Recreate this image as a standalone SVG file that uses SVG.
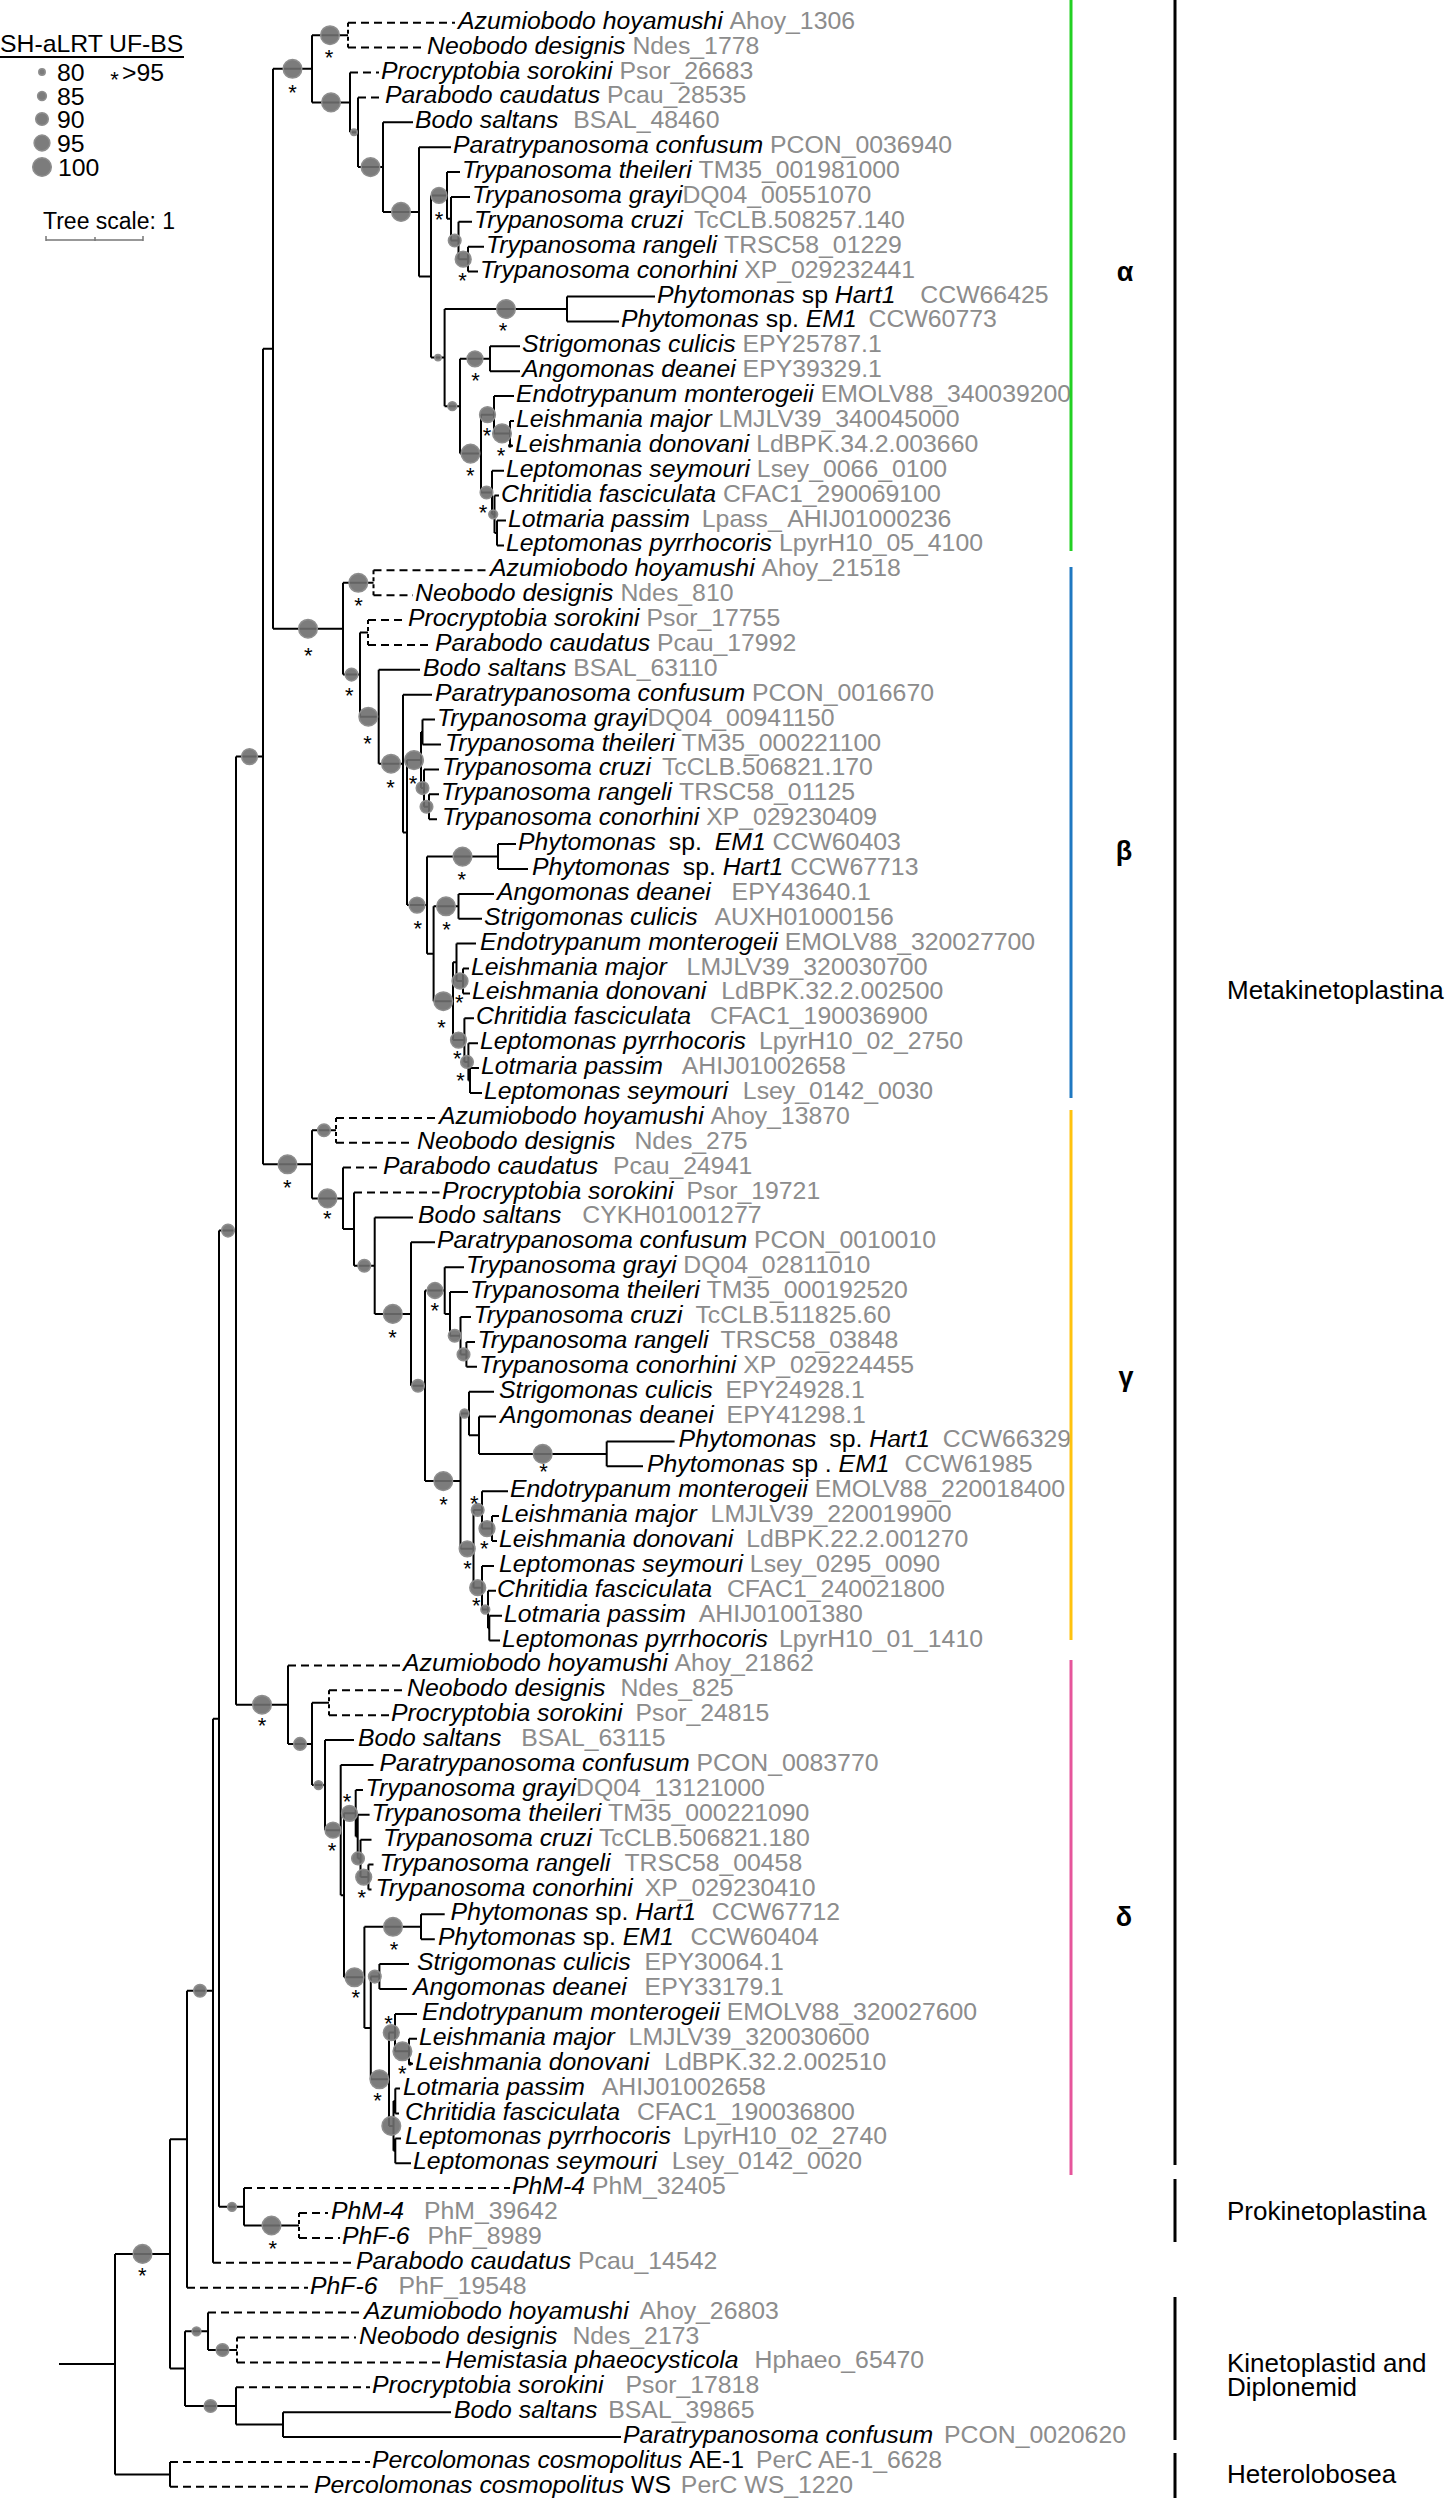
<svg xmlns="http://www.w3.org/2000/svg" width="1455" height="2498" viewBox="0 0 1455 2498">
<style>
.t{font-family:"Liberation Sans",Arial,sans-serif;font-size:24.8px;font-style:italic;fill:#000}
.i{font-style:normal;fill:#8c8c8c}
.r{font-style:normal}
.lg{font-family:"Liberation Sans",Arial,sans-serif;font-size:24.8px;fill:#000}
.cl{font-family:"Liberation Sans",Arial,sans-serif;font-size:26px;fill:#000}
.gk{font-family:"Liberation Sans",Arial,sans-serif;font-size:27px;font-weight:bold;fill:#000;text-anchor:middle}
.st{font-family:"Liberation Sans",Arial,sans-serif;font-size:22px;fill:#000;text-anchor:middle}
.br{fill:none;stroke:#000;stroke-width:2}
.da{fill:none;stroke:#000;stroke-width:2;stroke-dasharray:8 5}
.dv{fill:none;stroke:#000;stroke-width:2;stroke-dasharray:4 3}
.s{fill:#6e6e6e;fill-opacity:0.9;stroke:#8e8e8e;stroke-width:1.5}
.dot{fill:#000}
</style>
<g id="legend">
<text class="lg" x="0" y="52">SH-aLRT</text>
<text class="lg" x="109" y="52">UF-BS</text>
<line x1="0" y1="57" x2="184" y2="57" stroke="#000" stroke-width="2"/>
<circle class="s" cx="42" cy="72" r="3.2"/>
<circle class="s" cx="42" cy="96" r="4.4"/>
<circle class="s" cx="42" cy="119" r="6.3"/>
<circle class="s" cx="42" cy="143" r="7.9"/>
<circle class="s" cx="42" cy="167" r="9.3"/>
<text class="lg" x="57" y="81">80</text>
<text class="lg" x="57" y="105">85</text>
<text class="lg" x="57" y="128">90</text>
<text class="lg" x="57" y="152">95</text>
<text class="lg" x="58" y="176">100</text>
<text class="st" x="114.6" y="86.5">*</text>
<text class="lg" x="122" y="81">&gt;95</text>
<text class="lg" x="43" y="229" style="font-size:23px">Tree scale: 1</text>
<path d="M46 240H143M46 236V241M95 237V241M143 236V241" fill="none" stroke="#777" stroke-width="1.5"/>
</g>
<g id="connectors">
<path class="br" d="M59 2364.1H115M115 2253.9V2474.4M115 2253.9H170M115 2474.4H170M170 2139.2V2368.6M170 2139.2H187M170 2368.6H185M187 1990.8V2287.7M187 1990.8H213M213 1718.7V2262.8M213 1718.7H219M219 1230.6V2206.8M219 1230.6H236M219 2206.8H244M236 756.6V1704.7M236 756.6H263M236 1704.7H288M263 348.8V1164.3M263 348.8H273M263 1164.3H312M273 68.8V628.7M273 68.8H312M273 628.7H343
M185 2331.3V2406M185 2331.3H208M185 2406H236M208 2312.6V2350M208 2350H237M236 2387.3V2424.6M236 2424.6H283M283 2412.2V2437M283 2412.2H451M283 2437H621M170 2461.9V2486.8
M244 2188.1V2225.5M244 2225.5H299
M312 35.2V102.4M312 35.2H348M312 102.4H350M350 72.5V132.3M350 132.3H358M358 97.4V167.1M358 167.1H383M383 122.3V211.9M383 122.3H413M383 211.9H419M419 147.2V276.5M419 147.2H451M419 276.5H431M431 195.4V357.6M431 195.4H447M431 357.6H444.6M447 172V218.7M447 172H460M447 218.7H451M451 196.9V240.5M451 196.9H470M451 240.5H458.5M458.5 221.8V259.2M458.5 221.8H472M458.5 259.2H468M468 246.7V271.6M468 246.7H484M468 271.6H478M444.6 309V406.2M444.6 309H567M444.6 406.2H460M567 296.5V321.4M567 296.5H655M567 321.4H619M460 358.8V453.6M460 358.8H490M460 453.6H481M490 346.3V371.2M490 346.3H520M490 371.2H520M481 414.7V492.5M481 414.7H494M481 492.5H492M494 396.1V433.4M494 396.1H514M494 433.4H510M510 420.9V445.8M510 420.9H514M510 445.8H513M492 470.7V514.3M492 470.7H504M492 514.3H494.5M494.5 495.6V533M494.5 495.6H499M494.5 533H497M497 520.5V545.4M497 520.5H506M497 545.4H504
M343 582.8V674.6M343 582.8H373.5M343 674.6H360M360 632.6V716.7M360 632.6H368M360 716.7H378.7M378.7 669.8V763.7M378.7 669.8H420M378.7 763.7H403M403 694.7V832.6M403 694.7H432M403 832.6H407M407 760.1V905.1M407 760.1H421M407 905.1H427M421 732V788.1M421 732H422.5M421 788.1H424M422.5 719.6V744.5M422.5 719.6H435M422.5 744.5H441M424 769.4V806.8M424 769.4H439M424 806.8H429M429 794.3V819.2M429 794.3H439M429 819.2H437M427 856.6V953.8M427 856.6H498M427 953.8H433.6M498 844.1V869M498 844.1H516M498 869H528M433.6 906.3V1001.2M433.6 906.3H458.5M433.6 1001.2H453M458.5 893.9V918.7M458.5 893.9H494M458.5 918.7H482M453 962.3V1040.1M453 962.3H456.5M453 1040.1H464.4M456.5 943.6V981M456.5 943.6H476M456.5 981H463M463 968.5V993.4M463 968.5H469M463 993.4H470M464.4 1018.3V1061.9M464.4 1018.3H474M464.4 1061.9H468.4M468.4 1043.2V1080.6M468.4 1043.2H478M468.4 1080.6H470M470 1068.1V1093M470 1068.1H479M470 1093H482
M312 1130.3V1198.4M312 1130.3H336M312 1198.4H343M343 1167.6V1229.1M343 1229.1H354M354 1192.5V1265.7M354 1265.7H374.7M374.7 1217.4V1313.9M374.7 1217.4H413M374.7 1313.9H411M411 1242.3V1385.8M411 1242.3H435M411 1385.8H425M425 1290.5V1481.1M425 1290.5H444.7M425 1481.1H460.5M444.7 1267.2V1313.9M444.7 1267.2H464M444.7 1313.9H450M450 1292.1V1335.7M450 1292.1H468M450 1335.7H460.5M460.5 1317V1354.4M460.5 1317H471M460.5 1354.4H466.4M466.4 1341.9V1366.8M466.4 1341.9H475M466.4 1366.8H477M460.5 1413.5V1548.8M460.5 1413.5H469M460.5 1548.8H473.5M469 1391.7V1435.2M469 1391.7H494M469 1435.2H479M479 1416.5V1453.9M479 1416.5H496M479 1453.9H606.7M606.7 1441.4V1466.3M606.7 1441.4H674.6M606.7 1466.3H643M473.5 1509.9V1587.7M473.5 1509.9H482M473.5 1587.7H482M482 1491.2V1528.6M482 1491.2H508M482 1528.6H492M492 1516.1V1541M492 1516.1H499M492 1541H497M482 1565.9V1609.5M482 1565.9H494M482 1609.5H488M488 1590.8V1628.2M488 1590.8H496M488 1628.2H489.3M489.3 1615.7V1640.6M489.3 1615.7H502M489.3 1640.6H500
M288 1665.4V1743.9M288 1743.9H312M312 1702.8V1785.1M312 1702.8H329M312 1785.1H325M325 1740.1V1830.2M325 1740.1H354M325 1830.2H340.7M340.7 1765V1895.3M340.7 1765H373.5M340.7 1895.3H344M344 1813.3V1977.3M344 1813.3H355.7M344 1977.3H364.4M355.7 1789.9V1836.6M355.7 1789.9H363M355.7 1836.6H357.7M357.7 1814.8V1858.4M357.7 1814.8H369.6M357.7 1858.4H360.5M360.5 1839.7V1877.1M360.5 1839.7H371.5M360.5 1877.1H368.4M368.4 1864.6V1889.5M368.4 1864.6H373.5M368.4 1889.5H371.5M364.4 1926.8V2027.9M364.4 1926.8H421M364.4 2027.9H370.8M421 1914.3V1939.2M421 1914.3H444.7M421 1939.2H434.8M370.8 1976.6V2079.3M370.8 1976.6H379.4M370.8 2079.3H389M379.4 1964.1V1989M379.4 1964.1H409M379.4 1989H407M389 2032.6V2125.9M389 2032.6H395M389 2125.9H393.5M395 2013.9V2051.3M395 2013.9H417M395 2051.3H409M409 2038.8V2063.7M409 2038.8H417M409 2063.7H413M393.5 2101.1V2150.8M393.5 2101.1H395.3M393.5 2150.8H395.3M395.3 2088.6V2113.5M395.3 2088.6H400M395.3 2113.5H399M395.3 2138.4V2163.2M395.3 2138.4H401M395.3 2163.2H411"/>
<path class="da" d="M348 22.7H455M348 47.6H425M350 72.5H379M358 97.4H383M373.5 570.3H488M373.5 595.2H413M368 620.1H406M368 645H433M336 1117.9H437M336 1142.8H413M343 1167.6H381M354 1192.5H439.5M288 1665.4H401M329 1690.3H405M329 1715.2H389M244 2188.1H510M299 2213H328M299 2237.9H340M213 2262.8H354M187 2287.7H308M208 2312.6H362M237 2337.5H356M237 2362.4H442M236 2387.3H370M170 2461.9H370M170 2486.8H312"/>
<path class="dv" d="M348 22.7V47.6M373.5 570.3V595.2M368 620.1V645M336 1117.9V1142.8M329 1690.3V1715.2M299 2213V2237.9M237 2337.5V2362.4"/>
</g>
<g id="supports">
<circle class="s" cx="292.5" cy="68.8" r="9.3"/><circle class="s" cx="330" cy="35.2" r="9.3"/><circle class="s" cx="331" cy="102.4" r="9.3"/><circle class="s" cx="354" cy="132.3" r="3.2"/><circle class="s" cx="370.5" cy="167.1" r="9.3"/><circle class="s" cx="401" cy="211.9" r="9.3"/><circle class="s" cx="439" cy="195.4" r="7.9"/><circle class="s" cx="454.7" cy="240.5" r="6.3"/><circle class="s" cx="463.2" cy="259.2" r="7.9"/><circle class="s" cx="438" cy="357.6" r="3.2"/><circle class="s" cx="506" cy="309" r="9.3"/><circle class="s" cx="452.3" cy="406.2" r="4.4"/><circle class="s" cx="475" cy="358.8" r="7.9"/><circle class="s" cx="470.5" cy="453.6" r="9.3"/><circle class="s" cx="487.5" cy="414.7" r="7.9"/><circle class="s" cx="502" cy="433.4" r="9.3"/><circle class="dot" cx="510" cy="445.8" r="2"/><circle class="s" cx="486.5" cy="492.5" r="6.3"/><circle class="s" cx="493.2" cy="514.3" r="4.4"/>
<circle class="s" cx="308" cy="628.7" r="9.3"/><circle class="s" cx="358.3" cy="582.8" r="9.3"/><circle class="s" cx="351.5" cy="674.6" r="6.3"/><circle class="s" cx="368.3" cy="716.7" r="9.3"/><circle class="s" cx="391" cy="763.7" r="9.3"/><circle class="s" cx="414" cy="760.1" r="9.3"/><circle class="s" cx="422.5" cy="788.1" r="6.3"/><circle class="s" cx="426.5" cy="806.8" r="6.3"/><circle class="s" cx="417" cy="905.1" r="7.9"/><circle class="s" cx="462.5" cy="856.6" r="9.3"/><circle class="s" cx="446" cy="906.3" r="9.3"/><circle class="s" cx="443.3" cy="1001.2" r="9.3"/><circle class="s" cx="460" cy="981" r="7.9"/><circle class="s" cx="458.5" cy="1040.1" r="7.9"/><circle class="s" cx="467" cy="1061.9" r="6.3"/>
<circle class="s" cx="287.5" cy="1164.3" r="9.3"/><circle class="s" cx="324" cy="1130.3" r="6.3"/><circle class="s" cx="327.5" cy="1198.4" r="9.3"/><circle class="s" cx="364.3" cy="1265.7" r="6.3"/><circle class="s" cx="392.8" cy="1313.9" r="9.3"/><circle class="s" cx="418" cy="1385.8" r="6.3"/><circle class="s" cx="435" cy="1290.5" r="7.9"/><circle class="s" cx="454.7" cy="1335.7" r="6.3"/><circle class="s" cx="463.5" cy="1354.4" r="6.3"/><circle class="s" cx="443.3" cy="1481.1" r="9.3"/><circle class="s" cx="464.5" cy="1413.5" r="4.4"/><circle class="s" cx="542.7" cy="1453.9" r="9.3"/><circle class="s" cx="467.2" cy="1548.8" r="7.9"/><circle class="s" cx="477.7" cy="1509.9" r="6.3"/><circle class="s" cx="487" cy="1528.6" r="7.9"/><circle class="s" cx="477.7" cy="1587.7" r="7.9"/><circle class="s" cx="485.3" cy="1609.5" r="4.4"/>
<circle class="s" cx="262" cy="1704.7" r="9.3"/><circle class="s" cx="300" cy="1743.9" r="6.3"/><circle class="s" cx="318.5" cy="1785.1" r="4.4"/><circle class="s" cx="333" cy="1830.2" r="7.9"/><circle class="s" cx="349.5" cy="1813.3" r="7.9"/><circle class="s" cx="358" cy="1858.4" r="6.3"/><circle class="s" cx="363.7" cy="1877.1" r="7.9"/><circle class="s" cx="354.5" cy="1977.3" r="9.3"/><circle class="s" cx="393" cy="1926.8" r="9.3"/><circle class="s" cx="374.8" cy="1976.6" r="6.3"/><circle class="s" cx="379.4" cy="2079.3" r="9.3"/><circle class="s" cx="391.3" cy="2032.6" r="7.9"/><circle class="s" cx="402.4" cy="2051.3" r="9.3"/><circle class="dot" cx="410" cy="2063.7" r="2"/><circle class="s" cx="391.3" cy="2125.9" r="9.3"/>
<circle class="s" cx="249.5" cy="756.6" r="7.9"/><circle class="s" cx="228" cy="1230.6" r="6.3"/><circle class="s" cx="232" cy="2206.8" r="4.4"/><circle class="s" cx="271.5" cy="2225.5" r="9.3"/><circle class="s" cx="200" cy="1990.8" r="6.3"/><circle class="s" cx="142.5" cy="2253.9" r="9.3"/><circle class="s" cx="196.5" cy="2331.3" r="4.4"/><circle class="s" cx="222.5" cy="2350" r="6.3"/><circle class="s" cx="210.5" cy="2406" r="6.3"/>
</g>
<g id="stars">
<text class="st" x="292.5" y="99.5">*</text><text class="st" x="329" y="65">*</text><text class="st" x="439" y="226.5">*</text><text class="st" x="462.5" y="288">*</text><text class="st" x="503" y="338">*</text><text class="st" x="475.5" y="388">*</text><text class="st" x="470.4" y="483">*</text><text class="st" x="487" y="442.5">*</text><text class="st" x="501" y="463">*</text><text class="st" x="483" y="520">*</text>
<text class="st" x="308.3" y="662.5">*</text><text class="st" x="358.5" y="613">*</text><text class="st" x="349.4" y="702.5">*</text><text class="st" x="367.6" y="750.5">*</text><text class="st" x="390.5" y="795">*</text><text class="st" x="413" y="791">*</text><text class="st" x="417.8" y="936">*</text><text class="st" x="461.7" y="886.5">*</text><text class="st" x="446.6" y="936.5">*</text><text class="st" x="441.5" y="1034.5">*</text><text class="st" x="459.3" y="1009.5">*</text><text class="st" x="457.3" y="1066">*</text><text class="st" x="460.5" y="1087.5">*</text>
<text class="st" x="287.4" y="1195">*</text><text class="st" x="327.3" y="1226">*</text><text class="st" x="392.5" y="1345">*</text><text class="st" x="434.8" y="1318">*</text><text class="st" x="443.5" y="1511.5">*</text><text class="st" x="543.5" y="1478.5">*</text><text class="st" x="474.3" y="1510.8">*</text><text class="st" x="484.2" y="1556">*</text><text class="st" x="467.6" y="1576">*</text><text class="st" x="476.3" y="1612.5">*</text>
<text class="st" x="262" y="1733">*</text><text class="st" x="332" y="1858">*</text><text class="st" x="347" y="1809.2">*</text><text class="st" x="361.7" y="1904.5">*</text><text class="st" x="394" y="1956.5">*</text><text class="st" x="355.7" y="2005">*</text><text class="st" x="388.5" y="2030.8">*</text><text class="st" x="402.4" y="2080.5">*</text><text class="st" x="377.5" y="2108">*</text>
<text class="st" x="272.7" y="2256">*</text><text class="st" x="142.3" y="2283">*</text>
</g>
<g id="leaves">
<g id="n0"><text class="t" x="458" y="28.7">Azumiobodo hoyamushi <tspan class="i">Ahoy_1306</tspan></text></g>
<g id="n1"><text class="t" x="427" y="53.6">Neobodo designis <tspan class="i">Ndes_1778</tspan></text></g>
<g id="n2"><text class="t" x="381" y="78.5">Procryptobia sorokini <tspan class="i">Psor_26683</tspan></text></g>
<g id="n3"><text class="t" x="385" y="103.4">Parabodo caudatus <tspan class="i">Pcau_28535</tspan></text></g>
<g id="n4"><text class="t" x="415" y="128.3">Bodo saltans <tspan class="i" dx="8">BSAL_48460</tspan></text></g>
<g id="n5"><text class="t" x="453" y="153.2">Paratrypanosoma confusum <tspan class="i">PCON_0036940</tspan></text></g>
<g id="n6"><text class="t" x="462" y="178">Trypanosoma theileri <tspan class="i">TM35_001981000</tspan></text></g>
<g id="n7"><text class="t" x="472" y="202.9">Trypanosoma grayi<tspan class="i">DQ04_00551070</tspan></text></g>
<g id="n8"><text class="t" x="474" y="227.8">Trypanosoma cruzi <tspan class="i" dx="4">TcCLB.508257.140</tspan></text></g>
<g id="n9"><text class="t" x="486" y="252.7">Trypanosoma rangeli <tspan class="i">TRSC58_01229</tspan></text></g>
<g id="n10"><text class="t" x="480" y="277.6">Trypanosoma conorhini <tspan class="i">XP_029232441</tspan></text></g>
<g id="n11"><text class="t" x="657" y="302.5">Phytomonas <tspan class="r">sp</tspan> Hart1 <tspan class="i" dx="18">CCW66425</tspan></text></g>
<g id="n12"><text class="t" x="621" y="327.4">Phytomonas <tspan class="r">sp.</tspan> EM1 <tspan class="i" dx="5">CCW60773</tspan></text></g>
<g id="n13"><text class="t" x="522" y="352.3">Strigomonas culicis <tspan class="i">EPY25787.1</tspan></text></g>
<g id="n14"><text class="t" x="522" y="377.2">Angomonas deanei <tspan class="i">EPY39329.1</tspan></text></g>
<g id="n15"><text class="t" x="516" y="402.1">Endotrypanum monterogeii <tspan class="i">EMOLV88_340039200</tspan></text></g>
<g id="n16"><text class="t" x="516" y="426.9">Leishmania major <tspan class="i">LMJLV39_340045000</tspan></text></g>
<g id="n17"><text class="t" x="515" y="451.8">Leishmania donovani <tspan class="i">LdBPK.34.2.003660</tspan></text></g>
<g id="n18"><text class="t" x="506" y="476.7">Leptomonas seymouri <tspan class="i">Lsey_0066_0100</tspan></text></g>
<g id="n19"><text class="t" x="501" y="501.6">Chritidia fasciculata <tspan class="i">CFAC1_290069100</tspan></text></g>
<g id="n20"><text class="t" x="508" y="526.5">Lotmaria passim <tspan class="i" dx="5">Lpass_ AHIJ01000236</tspan></text></g>
<g id="n21"><text class="t" x="506" y="551.4">Leptomonas pyrrhocoris <tspan class="i">LpyrH10_05_4100</tspan></text></g>
<g id="n22"><text class="t" x="490" y="576.3">Azumiobodo hoyamushi <tspan class="i">Ahoy_21518</tspan></text></g>
<g id="n23"><text class="t" x="415" y="601.2">Neobodo designis <tspan class="i">Ndes_810</tspan></text></g>
<g id="n24"><text class="t" x="408" y="626.1">Procryptobia sorokini <tspan class="i">Psor_17755</tspan></text></g>
<g id="n25"><text class="t" x="435" y="651">Parabodo caudatus <tspan class="i">Pcau_17992</tspan></text></g>
<g id="n26"><text class="t" x="423" y="675.8">Bodo saltans <tspan class="i">BSAL_63110</tspan></text></g>
<g id="n27"><text class="t" x="435" y="700.7">Paratrypanosoma confusum <tspan class="i">PCON_0016670</tspan></text></g>
<g id="n28"><text class="t" x="437" y="725.6">Trypanosoma grayi<tspan class="i">DQ04_00941150</tspan></text></g>
<g id="n29"><text class="t" x="445" y="750.5">Trypanosoma theileri <tspan class="i">TM35_000221100</tspan></text></g>
<g id="n30"><text class="t" x="442" y="775.4">Trypanosoma cruzi <tspan class="i" dx="4">TcCLB.506821.170</tspan></text></g>
<g id="n31"><text class="t" x="441" y="800.3">Trypanosoma rangeli <tspan class="i">TRSC58_01125</tspan></text></g>
<g id="n32"><text class="t" x="442" y="825.2">Trypanosoma conorhini <tspan class="i">XP_029230409</tspan></text></g>
<g id="n33"><text class="t" x="518" y="850.1">Phytomonas <tspan class="r" dx="6">sp.</tspan> <tspan dx="6">EM1</tspan> <tspan class="i">CCW60403</tspan></text></g>
<g id="n34"><text class="t" x="532" y="875">Phytomonas <tspan class="r" dx="6">sp.</tspan> Hart1 <tspan class="i">CCW67713</tspan></text></g>
<g id="n35"><text class="t" x="497" y="899.9">Angomonas deanei <tspan class="i" dx="14">EPY43640.1</tspan></text></g>
<g id="n36"><text class="t" x="484" y="924.7">Strigomonas culicis <tspan class="i" dx="10">AUXH01000156</tspan></text></g>
<g id="n37"><text class="t" x="480" y="949.6">Endotrypanum monterogeii <tspan class="i">EMOLV88_320027700</tspan></text></g>
<g id="n38"><text class="t" x="471" y="974.5">Leishmania major <tspan class="i" dx="13">LMJLV39_320030700</tspan></text></g>
<g id="n39"><text class="t" x="472" y="999.4">Leishmania donovani <tspan class="i" dx="8">LdBPK.32.2.002500</tspan></text></g>
<g id="n40"><text class="t" x="476" y="1024.3">Chritidia fasciculata <tspan class="i" dx="12">CFAC1_190036900</tspan></text></g>
<g id="n41"><text class="t" x="480" y="1049.2">Leptomonas pyrrhocoris <tspan class="i" dx="6">LpyrH10_02_2750</tspan></text></g>
<g id="n42"><text class="t" x="481" y="1074.1">Lotmaria passim <tspan class="i" dx="12">AHIJ01002658</tspan></text></g>
<g id="n43"><text class="t" x="484" y="1099">Leptomonas seymouri <tspan class="i" dx="8">Lsey_0142_0030</tspan></text></g>
<g id="n44"><text class="t" x="439" y="1123.9">Azumiobodo hoyamushi <tspan class="i">Ahoy_13870</tspan></text></g>
<g id="n45"><text class="t" x="417" y="1148.8">Neobodo designis <tspan class="i" dx="12">Ndes_275</tspan></text></g>
<g id="n46"><text class="t" x="383" y="1173.6">Parabodo caudatus <tspan class="i" dx="8">Pcau_24941</tspan></text></g>
<g id="n47"><text class="t" x="442" y="1198.5">Procryptobia sorokini <tspan class="i" dx="6">Psor_19721</tspan></text></g>
<g id="n48"><text class="t" x="418" y="1223.4">Bodo saltans <tspan class="i" dx="14">CYKH01001277</tspan></text></g>
<g id="n49"><text class="t" x="437" y="1248.3">Paratrypanosoma confusum <tspan class="i">PCON_0010010</tspan></text></g>
<g id="n50"><text class="t" x="466" y="1273.2">Trypanosoma grayi <tspan class="i">DQ04_02811010</tspan></text></g>
<g id="n51"><text class="t" x="470" y="1298.1">Trypanosoma theileri <tspan class="i">TM35_000192520</tspan></text></g>
<g id="n52"><text class="t" x="473.5" y="1323">Trypanosoma cruzi <tspan class="i" dx="6">TcCLB.511825.60</tspan></text></g>
<g id="n53"><text class="t" x="477.5" y="1347.9">Trypanosoma rangeli <tspan class="i" dx="5">TRSC58_03848</tspan></text></g>
<g id="n54"><text class="t" x="479" y="1372.8">Trypanosoma conorhini <tspan class="i">XP_029224455</tspan></text></g>
<g id="n55"><text class="t" x="499" y="1397.7">Strigomonas culicis <tspan class="i" dx="6">EPY24928.1</tspan></text></g>
<g id="n56"><text class="t" x="500" y="1422.5">Angomonas deanei <tspan class="i" dx="6">EPY41298.1</tspan></text></g>
<g id="n57"><text class="t" x="678.6" y="1447.4">Phytomonas <tspan class="r" dx="6">sp.</tspan> Hart1 <tspan class="i" dx="6">CCW66329</tspan></text></g>
<g id="n58"><text class="t" x="647" y="1472.3">Phytomonas <tspan class="r">sp . </tspan>EM1 <tspan class="i" dx="8">CCW61985</tspan></text></g>
<g id="n59"><text class="t" x="510" y="1497.2">Endotrypanum monterogeii <tspan class="i">EMOLV88_220018400</tspan></text></g>
<g id="n60"><text class="t" x="501" y="1522.1">Leishmania major <tspan class="i" dx="7">LMJLV39_220019900</tspan></text></g>
<g id="n61"><text class="t" x="499" y="1547">Leishmania donovani <tspan class="i" dx="6">LdBPK.22.2.001270</tspan></text></g>
<g id="n62"><text class="t" x="499" y="1571.9">Leptomonas seymouri <tspan class="i">Lsey_0295_0090</tspan></text></g>
<g id="n63"><text class="t" x="497" y="1596.8">Chritidia fasciculata <tspan class="i" dx="8">CFAC1_240021800</tspan></text></g>
<g id="n64"><text class="t" x="504" y="1621.7">Lotmaria passim <tspan class="i" dx="6">AHIJ01001380</tspan></text></g>
<g id="n65"><text class="t" x="502" y="1646.6">Leptomonas pyrrhocoris <tspan class="i" dx="4">LpyrH10_01_1410</tspan></text></g>
<g id="n66"><text class="t" x="403" y="1671.4">Azumiobodo hoyamushi <tspan class="i">Ahoy_21862</tspan></text></g>
<g id="n67"><text class="t" x="407" y="1696.3">Neobodo designis <tspan class="i" dx="8">Ndes_825</tspan></text></g>
<g id="n68"><text class="t" x="391" y="1721.2">Procryptobia sorokini <tspan class="i" dx="6">Psor_24815</tspan></text></g>
<g id="n69"><text class="t" x="358" y="1746.1">Bodo saltans <tspan class="i" dx="13">BSAL_63115</tspan></text></g>
<g id="n70"><text class="t" x="379.5" y="1771">Paratrypanosoma confusum <tspan class="i">PCON_0083770</tspan></text></g>
<g id="n71"><text class="t" x="365.6" y="1795.9">Trypanosoma grayi<tspan class="i">DQ04_13121000</tspan></text></g>
<g id="n72"><text class="t" x="371.5" y="1820.8">Trypanosoma theileri <tspan class="i">TM35_000221090</tspan></text></g>
<g id="n73"><text class="t" x="383" y="1845.7">Trypanosoma cruzi <tspan class="i">TcCLB.506821.180</tspan></text></g>
<g id="n74"><text class="t" x="379.4" y="1870.6">Trypanosoma rangeli <tspan class="i" dx="7">TRSC58_00458</tspan></text></g>
<g id="n75"><text class="t" x="375.5" y="1895.5">Trypanosoma conorhini <tspan class="i" dx="5">XP_029230410</tspan></text></g>
<g id="n76"><text class="t" x="450.6" y="1920.3">Phytomonas <tspan class="r">sp.</tspan> Hart1 <tspan class="i" dx="9">CCW67712</tspan></text></g>
<g id="n77"><text class="t" x="438" y="1945.2">Phytomonas <tspan class="r">sp.</tspan> EM1 <tspan class="i" dx="10">CCW60404</tspan></text></g>
<g id="n78"><text class="t" x="417" y="1970.1">Strigomonas culicis <tspan class="i" dx="7">EPY30064.1</tspan></text></g>
<g id="n79"><text class="t" x="413" y="1995">Angomonas deanei <tspan class="i" dx="11">EPY33179.1</tspan></text></g>
<g id="n80"><text class="t" x="422" y="2019.9">Endotrypanum monterogeii <tspan class="i">EMOLV88_320027600</tspan></text></g>
<g id="n81"><text class="t" x="419" y="2044.8">Leishmania major <tspan class="i" dx="7">LMJLV39_320030600</tspan></text></g>
<g id="n82"><text class="t" x="415" y="2069.7">Leishmania donovani <tspan class="i" dx="8">LdBPK.32.2.002510</tspan></text></g>
<g id="n83"><text class="t" x="403" y="2094.6">Lotmaria passim <tspan class="i" dx="10">AHIJ01002658</tspan></text></g>
<g id="n84"><text class="t" x="405" y="2119.5">Chritidia fasciculata <tspan class="i" dx="10">CFAC1_190036800</tspan></text></g>
<g id="n85"><text class="t" x="405" y="2144.4">Leptomonas pyrrhocoris <tspan class="i" dx="5">LpyrH10_02_2740</tspan></text></g>
<g id="n86"><text class="t" x="413" y="2169.2">Leptomonas seymouri <tspan class="i" dx="8">Lsey_0142_0020</tspan></text></g>
<g id="n87"><text class="t" x="512" y="2194.1">PhM-4 <tspan class="i">PhM_32405</tspan></text></g>
<g id="n88"><text class="t" x="331" y="2219">PhM-4 <tspan class="i" dx="13">PhM_39642</tspan></text></g>
<g id="n89"><text class="t" x="342" y="2243.9">PhF-6 <tspan class="i" dx="11">PhF_8989</tspan></text></g>
<g id="n90"><text class="t" x="356" y="2268.8">Parabodo caudatus <tspan class="i">Pcau_14542</tspan></text></g>
<g id="n91"><text class="t" x="310" y="2293.7">PhF-6 <tspan class="i" dx="14">PhF_19548</tspan></text></g>
<g id="n92"><text class="t" x="364" y="2318.6">Azumiobodo hoyamushi <tspan class="i" dx="4">Ahoy_26803</tspan></text></g>
<g id="n93"><text class="t" x="359" y="2343.5">Neobodo designis <tspan class="i" dx="8">Ndes_2173</tspan></text></g>
<g id="n94"><text class="t" x="445" y="2368.4">Hemistasia phaeocysticola <tspan class="i" dx="9">Hphaeo_65470</tspan></text></g>
<g id="n95"><text class="t" x="372" y="2393.3">Procryptobia sorokini <tspan class="i" dx="15">Psor_17818</tspan></text></g>
<g id="n96"><text class="t" x="454" y="2418.2">Bodo saltans <tspan class="i" dx="4">BSAL_39865</tspan></text></g>
<g id="n97"><text class="t" x="623" y="2443">Paratrypanosoma confusum <tspan class="i" dx="4">PCON_0020620</tspan></text></g>
<g id="n98"><text class="t" x="372" y="2467.9">Percolomonas cosmopolitus <tspan class="r">AE-1</tspan> <tspan class="i" dx="5">PerC AE-1_6628</tspan></text></g>
<g id="n99"><text class="t" x="314" y="2492.8">Percolomonas cosmopolitus <tspan class="r">WS</tspan> <tspan class="i" dx="3">PerC WS_1220</tspan></text></g>
</g>
<g id="clades">
<rect x="1069.5" y="0" width="3" height="551" fill="#22d022"/>
<rect x="1069.5" y="567" width="3" height="531" fill="#1f78c1"/>
<rect x="1069.5" y="1110" width="3" height="530" fill="#ffc20e"/>
<rect x="1069.5" y="1660" width="3" height="515" fill="#e6559b"/>
<text class="gk" x="1125" y="281">α</text>
<text class="gk" x="1124" y="860">β</text>
<text class="gk" x="1126" y="1386">γ</text>
<text class="gk" x="1124" y="1926">δ</text>
<rect x="1173.5" y="0" width="3" height="2165" fill="#000"/>
<rect x="1173.5" y="2179" width="3" height="63" fill="#000"/>
<rect x="1173.5" y="2297" width="3" height="143" fill="#000"/>
<rect x="1173.5" y="2453" width="3" height="45" fill="#000"/>
<text class="cl" x="1227" y="999">Metakinetoplastina</text>
<text class="cl" x="1227" y="2220">Prokinetoplastina</text>
<text class="cl" x="1227" y="2372">Kinetoplastid and</text>
<text class="cl" x="1227" y="2396">Diplonemid</text>
<text class="cl" x="1227" y="2483">Heterolobosea</text>
</g>
</svg>
